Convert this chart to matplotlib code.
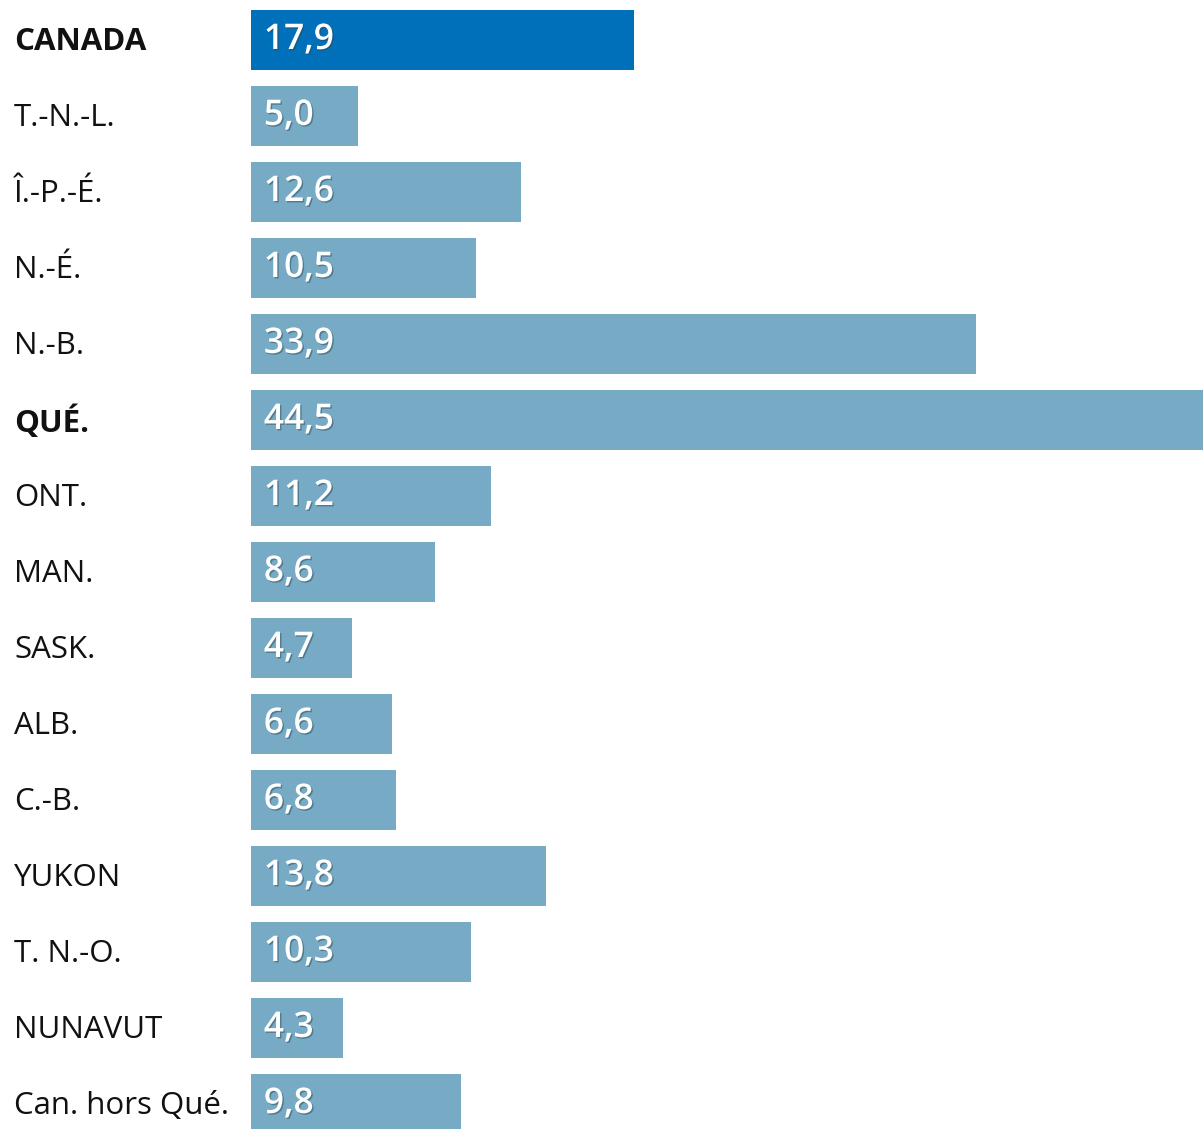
import matplotlib.pyplot as plt
import matplotlib.patheffects as pe

regions = ["CANADA", "T.-N.-L.", "Î.-P.-É.", "N.-É.", "N.-B.", "QUÉ.", "ONT.",
           "MAN.", "SASK.", "ALB.", "C.-B.", "YUKON", "T. N.-O.", "NUNAVUT",
           "Can. hors Qué."]
values = [17.9, 5.0, 12.6, 10.5, 33.9, 44.5, 11.2, 8.6, 4.7, 6.6, 6.8, 13.8,
          10.3, 4.3, 9.8]
bold_rows = ["CANADA", "QUÉ."]

plt.rcParams['font.family'] = ['Open Sans', 'DejaVu Sans']

fig = plt.figure(figsize=(12.03, 11.29), dpi=100)
ax = fig.add_axes([251 / 1203, 0, 1 - 251 / 1203, 1])

colors = ["#0070ba" if r == "CANADA" else "#77abc5" for r in regions]
ypos = list(range(len(regions)))
ax.barh(ypos, values, height=0.79, color=colors, edgecolor="none")

ax.set_xlim(0, 44.5)
ax.set_ylim((1129 - 40) / 76, -40 / 76)
ax.axis("off")

shadow = [pe.SimplePatchShadow(offset=(1, -1), shadow_rgbFace="#2a4a5a", alpha=0.5),
          pe.Normal()]
for y, r, v in zip(ypos, regions, values):
    weight = "bold" if r in bold_rows else "normal"
    ax.text(-237 / 21.39, y + 0.03, r, ha="left", va="center", fontsize=22.5,
            fontweight=weight, color="#111111", clip_on=False)
    label = f"{v:.1f}".replace(".", ",")
    ax.text(0.6, y + 0.0, label, ha="left", va="center", fontsize=25.5,
            fontweight="semibold", color="white", path_effects=shadow)

fig.savefig("out.png", dpi=100)
